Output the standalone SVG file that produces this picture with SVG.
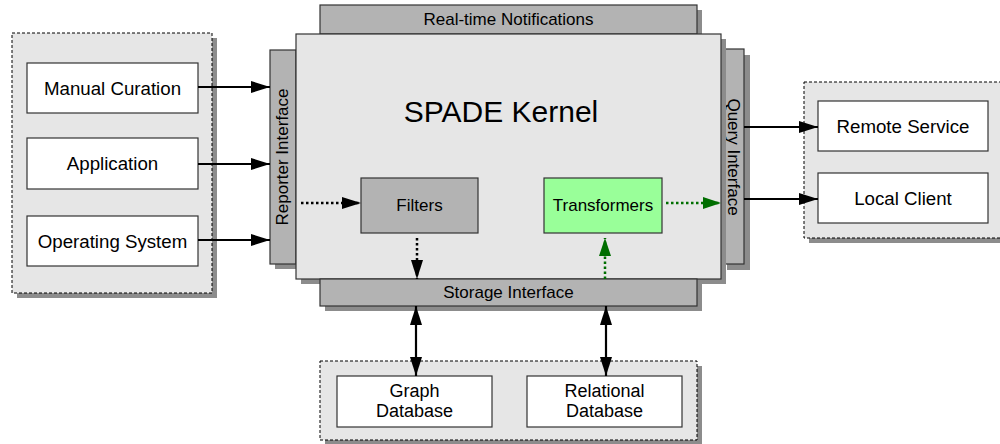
<svg xmlns="http://www.w3.org/2000/svg" width="1000" height="444" viewBox="0 0 1000 444">
<style>
text{font-family:"Liberation Sans",Arial,sans-serif;fill:#000}
.shadow{fill:#8c8c8c;stroke:none}
.cont{fill:#e6e6e6;stroke:#000;stroke-width:1;stroke-dasharray:3 2}
.box{fill:#fff;stroke:#333;stroke-width:1.2}
.bar{fill:#b3b3b3;stroke:#333;stroke-width:1.2}
.kernel{fill:#e6e6e6;stroke:#333;stroke-width:1.2}
.lbl{font-size:18.7px;text-anchor:middle}
.dlbl{font-size:18px;text-anchor:middle}
.ilbl{font-size:17px;text-anchor:middle}
.solid{stroke:#000;stroke-width:2.2;fill:none}
.dot{stroke:#000;stroke-width:2.5;stroke-dasharray:2.5 2.5;fill:none}
.gdot{stroke:#006e00;stroke-width:2.5;stroke-dasharray:2.5 2.5;fill:none}
</style>
<defs>
<marker id="ah" markerUnits="userSpaceOnUse" markerWidth="19" markerHeight="12" refX="19" refY="6" orient="auto-start-reverse"><path d="M0,0 L19,6 L0,12 z" fill="#000"/></marker>
<marker id="gh" markerUnits="userSpaceOnUse" markerWidth="18" markerHeight="12" refX="18" refY="6" orient="auto"><path d="M0,0 L18,6 L0,12 z" fill="#006e00"/></marker>
</defs>

<g id="sources">
<rect class="shadow" x="17" y="38" width="200" height="260"/>
<rect class="cont" x="12" y="33" width="200" height="260"/>
</g>
<g id="manual-curation"><rect class="box" x="27" y="63" width="171" height="50"/><text class="lbl" x="112.5" y="94.5">Manual Curation</text></g>
<g id="application"><rect class="box" x="27" y="138" width="171" height="51"/><text class="lbl" x="112.5" y="170">Application</text></g>
<g id="operating-system"><rect class="box" x="27" y="216" width="171" height="50"/><text class="lbl" x="112.5" y="247.5">Operating System</text></g>

<g id="clients">
<rect class="shadow" x="809" y="87" width="200" height="156"/>
<rect class="cont" x="804" y="82" width="205" height="156"/>
</g>
<g id="remote-service"><rect class="box" x="818" y="101" width="170" height="50"/><text class="lbl" x="903" y="132.5">Remote Service</text></g>
<g id="local-client"><rect class="box" x="818" y="173" width="170" height="50"/><text class="lbl" x="903" y="204.5">Local Client</text></g>

<g id="databases">
<rect class="shadow" x="325" y="366" width="377" height="79"/>
<rect class="cont" x="320" y="361" width="377" height="79"/>
</g>
<g id="graph-database"><rect class="box" x="337" y="376" width="155" height="51"/><text class="dlbl" x="414.5" y="397">Graph</text><text class="dlbl" x="414.5" y="416.5">Database</text></g>
<g id="relational-database"><rect class="box" x="527" y="376" width="155" height="51"/><text class="dlbl" x="604.5" y="397">Relational</text><text class="dlbl" x="604.5" y="416.5">Database</text></g>

<g id="real-time-notifications">
<rect class="shadow" x="325" y="10" width="377" height="29"/>
<rect class="bar" x="320" y="5" width="377" height="29"/>
<text class="ilbl" x="508.5" y="25">Real-time Notifications</text>
</g>
<g id="reporter-interface">
<rect class="shadow" x="275" y="55" width="26" height="214"/>
<rect class="bar" x="270" y="50" width="26" height="214"/>
<text class="ilbl" transform="translate(288,157) rotate(-90)">Reporter Interface</text>
</g>
<g id="query-interface">
<rect class="shadow" x="727" y="55" width="23" height="215"/>
<rect class="bar" x="721" y="49" width="23" height="215"/>
<text class="ilbl" transform="translate(728,157) rotate(90)">Query Interface</text>
</g>
<g id="spade-kernel">
<rect class="shadow" x="301" y="39" width="425" height="245"/>
<rect class="kernel" x="296" y="34" width="425" height="245"/>
<text x="501" y="122" style="font-size:30px;text-anchor:middle">SPADE Kernel</text>
</g>
<g id="filters"><rect x="361" y="178" width="117" height="55" fill="#b3b3b3" stroke="#333" stroke-width="1.2"/><text class="ilbl" x="419.5" y="211">Filters</text></g>
<g id="transformers"><rect x="544" y="178" width="118" height="55" fill="#99ff99" stroke="#333" stroke-width="1.2"/><text class="ilbl" x="603" y="211">Transformers</text></g>
<g id="storage-interface">
<rect class="shadow" x="325" y="284" width="377" height="27"/>
<rect class="bar" x="320" y="279" width="377" height="27"/>
<text class="ilbl" x="508.5" y="298">Storage Interface</text>
</g>

<g id="connectors">
<line class="solid" x1="198" y1="87" x2="270" y2="87" marker-end="url(#ah)"/>
<line class="solid" x1="198" y1="164" x2="270" y2="164" marker-end="url(#ah)"/>
<line class="solid" x1="198" y1="240" x2="270" y2="240" marker-end="url(#ah)"/>
<line class="dot" x1="301" y1="203" x2="361" y2="203" marker-end="url(#ah)"/>
<line class="dot" x1="417" y1="238" x2="417" y2="279" marker-end="url(#ah)"/>
<line class="gdot" x1="605" y1="279" x2="605" y2="238" marker-end="url(#gh)"/>
<line class="gdot" x1="666" y1="203" x2="721" y2="203" marker-end="url(#gh)"/>
<line class="solid" x1="744" y1="127" x2="818" y2="127" marker-end="url(#ah)"/>
<line class="solid" x1="744" y1="199" x2="818" y2="199" marker-end="url(#ah)"/>
<line class="solid" x1="416" y1="306" x2="416" y2="376" marker-start="url(#ah)" marker-end="url(#ah)"/>
<line class="solid" x1="606" y1="306" x2="606" y2="376" marker-start="url(#ah)" marker-end="url(#ah)"/>
</g>
</svg>
